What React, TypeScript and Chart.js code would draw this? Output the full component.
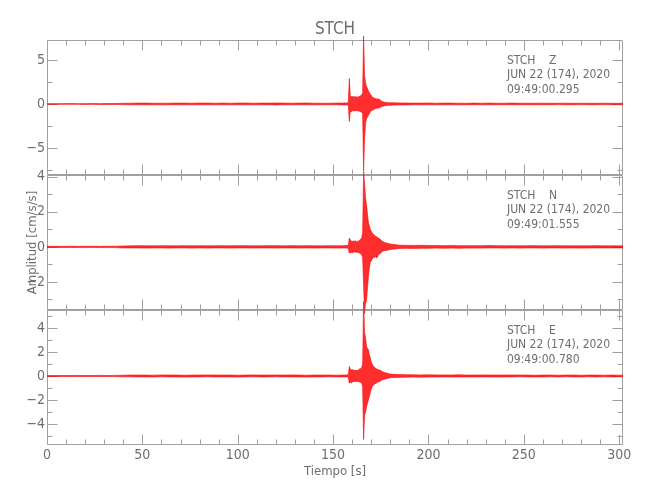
import React, { useEffect, useRef } from 'react';
import { Chart, registerables } from 'chart.js';

Chart.register(...registerables);

// ---------- text ----------
const TITLE = 'STCH';
const X_LABEL = 'Tiempo [s]';
const Y_LABEL = 'Amplitud [cm/s/s]';
const ANNOT_Z = ['STCH    Z', 'JUN 22 (174), 2020', '09:49:00.295'];
const ANNOT_N = ['STCH    N', 'JUN 22 (174), 2020', '09:49:01.555'];
const ANNOT_E = ['STCH    E', 'JUN 22 (174), 2020', '09:49:00.780'];

// ---------- axes ----------
const X_MIN = 0;
const X_MAX = 302;
const X_MAJOR = [0, 50, 100, 150, 200, 250, 300];
const X_MINOR = [10, 20, 30, 40, 60, 70, 80, 90, 110, 120, 130, 140, 160, 170, 180, 190, 210, 220, 230, 240, 260, 270, 280, 290];

const Z_RANGE = [-8.07, 7.27];
const Z_MAJOR = [-5, 0, 5];
const Z_MINOR = [-7.5, -2.5, 2.5];
const N_RANGE = [-3.6, 4.1];
const N_MAJOR = [-2, 0, 2, 4];
const N_MINOR = [-3, -1, 1, 3];
const E_RANGE = [-5.75, 5.5];
const E_MAJOR = [-4, -2, 0, 2, 4];
const E_MINOR = [-5, -3, -1, 1, 3, 5];

// ---------- signal envelopes (s, cm/s/s) ----------
const TIME = [
  0, 4, 8, 12, 16, 20, 24, 28, 32, 36,
  40, 44, 48, 52, 56, 60, 64, 68, 72, 76,
  80, 84, 88, 92, 96, 100, 104, 108, 112, 116,
  120, 124, 128, 132, 136, 140, 144, 148, 152, 155,
  157, 157.5, 158, 158.5, 159, 159.5, 160, 160.5, 161, 161.5,
  162, 162.5, 163, 163.5, 164, 164.5, 165, 165.5, 166, 166.5,
  167, 167.5, 168, 168.5, 169, 169.5, 170, 170.5, 171, 171.5,
  172, 172.5, 173, 173.5, 174, 174.5, 175, 176, 177, 178,
  179, 180, 182,
  185, 188, 192, 196, 200, 204, 208, 212, 216, 220,
  224, 228, 232, 236, 240, 244, 248, 252, 256, 260,
  264, 268, 272, 276, 280, 284, 288, 292, 296, 300,
  302,
];

const Z_HI = [
  0.04, 0.04, 0.04, 0.05, 0.04, 0.04, 0.05, 0.04, 0.05, 0.05,
  0.07, 0.09, 0.1, 0.1, 0.08, 0.09, 0.09, 0.1, 0.1, 0.09,
  0.11, 0.1, 0.09, 0.1, 0.09, 0.1, 0.11, 0.09, 0.1, 0.1,
  0.11, 0.1, 0.09, 0.1, 0.11, 0.09, 0.08, 0.09, 0.1, 0.11,
  0.12, 0.14, 0.16, 2.9, 0.95, 0.85, 0.8, 0.9, 0.75, 0.85,
  0.8, 0.7, 0.85, 0.8, 0.9, 0.95, 1.0, 1.3, 7.7, 3.2,
  2.4, 2.0, 1.8, 1.5, 1.3, 1.1, 1.0, 0.8, 0.7, 0.7,
  0.6, 0.6, 0.55, 0.5, 0.6, 0.45, 0.4, 0.25, 0.2, 0.18,
  0.15, 0.14, 0.13,
  0.12, 0.11, 0.1, 0.1, 0.11, 0.09, 0.1, 0.1, 0.09, 0.08,
  0.1, 0.09, 0.1, 0.08, 0.09, 0.1, 0.08, 0.09, 0.08, 0.09,
  0.08, 0.08, 0.09, 0.08, 0.08, 0.08, 0.07, 0.09, 0.07, 0.08,
  0.07,
];
const Z_LO = [
  -0.04, -0.04, -0.04, -0.04, -0.04, -0.05, -0.04, -0.05, -0.05, -0.05,
  -0.07, -0.09, -0.1, -0.1, -0.09, -0.1, -0.08, -0.1, -0.1, -0.09,
  -0.1, -0.09, -0.1, -0.1, -0.09, -0.1, -0.1, -0.1, -0.1, -0.1,
  -0.11, -0.1, -0.1, -0.09, -0.1, -0.1, -0.09, -0.09, -0.09, -0.11,
  -0.11, -0.12, -0.14, -2.0, -0.85, -0.9, -0.75, -0.8, -0.8, -0.7,
  -0.75, -0.8, -0.7, -0.85, -0.8, -0.9, -0.95, -1.1, -7.6, -4.0,
  -2.2, -1.7, -1.5, -1.3, -1.1, -0.9, -0.8, -0.7, -0.7, -0.6,
  -0.5, -0.5, -0.5, -0.4, -0.5, -0.4, -0.35, -0.25, -0.2, -0.17,
  -0.15, -0.14, -0.12,
  -0.11, -0.11, -0.1, -0.1, -0.09, -0.1, -0.1, -0.09, -0.1, -0.09,
  -0.08, -0.1, -0.09, -0.09, -0.08, -0.09, -0.09, -0.08, -0.09, -0.08,
  -0.08, -0.07, -0.08, -0.08, -0.07, -0.09, -0.08, -0.07, -0.08, -0.07,
  -0.07,
];

const N_HI = [
  0.03, 0.04, 0.03, 0.04, 0.03, 0.04, 0.04, 0.03, 0.04, 0.04,
  0.05, 0.06, 0.07, 0.06, 0.06, 0.07, 0.06, 0.06, 0.07, 0.06,
  0.07, 0.06, 0.06, 0.07, 0.06, 0.07, 0.07, 0.06, 0.06, 0.07,
  0.07, 0.06, 0.07, 0.06, 0.07, 0.06, 0.06, 0.07, 0.06, 0.07,
  0.08, 0.09, 0.1, 0.5, 0.4, 0.35, 0.3, 0.35, 0.3, 0.35,
  0.3, 0.25, 0.35, 0.3, 0.4, 0.45, 0.5, 0.8, 4.3, 3.6,
  2.8, 2.4, 1.9, 1.4, 1.2, 1.0, 0.9, 0.8, 0.7, 0.7,
  0.6, 0.6, 0.6, 0.5, 0.5, 0.45, 0.4, 0.3, 0.25, 0.22,
  0.2, 0.17, 0.13,
  0.1, 0.09, 0.08, 0.09, 0.08, 0.08, 0.07, 0.08, 0.07, 0.07,
  0.07, 0.07, 0.08, 0.07, 0.06, 0.07, 0.06, 0.07, 0.07, 0.06,
  0.06, 0.07, 0.06, 0.06, 0.06, 0.06, 0.07, 0.06, 0.06, 0.06,
  0.06,
];
const N_LO = [
  -0.03, -0.03, -0.04, -0.03, -0.04, -0.04, -0.03, -0.04, -0.04, -0.04,
  -0.06, -0.06, -0.06, -0.07, -0.06, -0.06, -0.07, -0.06, -0.06, -0.07,
  -0.06, -0.07, -0.06, -0.06, -0.07, -0.06, -0.06, -0.07, -0.06, -0.06,
  -0.07, -0.06, -0.06, -0.07, -0.06, -0.07, -0.06, -0.06, -0.07, -0.06,
  -0.07, -0.08, -0.09, -0.35, -0.35, -0.3, -0.35, -0.3, -0.3, -0.25,
  -0.3, -0.3, -0.3, -0.35, -0.35, -0.4, -0.45, -0.6, -2.2, -3.8,
  -3.2, -3.1, -2.4, -1.7, -1.2, -0.9, -0.8, -0.7, -0.6, -0.6,
  -0.6, -0.5, -0.6, -0.5, -0.4, -0.4, -0.35, -0.25, -0.22, -0.2,
  -0.18, -0.15, -0.12,
  -0.09, -0.08, -0.09, -0.08, -0.08, -0.07, -0.08, -0.07, -0.08, -0.07,
  -0.07, -0.07, -0.06, -0.06, -0.07, -0.06, -0.07, -0.06, -0.06, -0.07,
  -0.06, -0.06, -0.07, -0.06, -0.07, -0.06, -0.06, -0.06, -0.06, -0.06,
  -0.06,
];

const E_HI = [
  0.04, 0.04, 0.04, 0.04, 0.05, 0.04, 0.04, 0.05, 0.04, 0.05,
  0.07, 0.08, 0.08, 0.08, 0.07, 0.09, 0.08, 0.08, 0.07, 0.08,
  0.08, 0.09, 0.08, 0.08, 0.08, 0.07, 0.08, 0.09, 0.08, 0.08,
  0.08, 0.08, 0.09, 0.08, 0.07, 0.08, 0.08, 0.08, 0.07, 0.08,
  0.09, 0.1, 0.12, 0.8, 0.6, 0.5, 0.55, 0.5, 0.45, 0.5,
  0.4, 0.5, 0.45, 0.55, 0.6, 0.6, 0.7, 1.0, 6.2, 3.6,
  3.2, 2.5, 2.3, 2.2, 1.8, 1.5, 1.2, 1.0, 0.85, 0.75,
  0.7, 0.6, 0.6, 0.55, 0.5, 0.5, 0.45, 0.35, 0.3, 0.25,
  0.2, 0.17, 0.14,
  0.12, 0.11, 0.1, 0.09, 0.1, 0.09, 0.09, 0.08, 0.1, 0.08,
  0.08, 0.09, 0.08, 0.08, 0.08, 0.09, 0.08, 0.08, 0.07, 0.08,
  0.08, 0.07, 0.08, 0.08, 0.07, 0.08, 0.08, 0.07, 0.08, 0.07,
  0.07,
];
const E_LO = [
  -0.04, -0.04, -0.04, -0.04, -0.04, -0.04, -0.05, -0.04, -0.04, -0.05,
  -0.07, -0.07, -0.08, -0.08, -0.08, -0.07, -0.08, -0.08, -0.09, -0.08,
  -0.08, -0.07, -0.08, -0.08, -0.08, -0.09, -0.08, -0.07, -0.08, -0.08,
  -0.07, -0.08, -0.08, -0.08, -0.09, -0.08, -0.08, -0.07, -0.08, -0.08,
  -0.08, -0.09, -0.12, -0.6, -0.5, -0.6, -0.5, -0.45, -0.5, -0.4,
  -0.45, -0.5, -0.4, -0.5, -0.5, -0.55, -0.6, -0.9, -5.3, -3.3,
  -3.0, -2.6, -2.3, -2.0, -1.7, -1.4, -1.1, -0.9, -0.8, -0.7,
  -0.65, -0.6, -0.55, -0.5, -0.5, -0.45, -0.4, -0.3, -0.27, -0.22,
  -0.18, -0.15, -0.13,
  -0.11, -0.1, -0.09, -0.1, -0.09, -0.09, -0.08, -0.09, -0.08, -0.08,
  -0.08, -0.08, -0.08, -0.09, -0.08, -0.08, -0.07, -0.08, -0.08, -0.08,
  -0.07, -0.08, -0.07, -0.08, -0.08, -0.07, -0.08, -0.07, -0.08, -0.07,
  -0.07,
];

// ---------- style ----------
const FONT = '"Liberation Sans Narrow", "DejaVu Sans Condensed", "Liberation Sans", sans-serif';
const AXIS_COLOR = '#a0a0a0';
const TEXT_COLOR = '#6e6e6e';
const SIGNAL_COLOR = '#ff0000';
const SIGNAL_FILL = 'rgba(255, 0, 0, 0.82)';
const W = 650;
const H = 500;

type Panel = {
  hi: number[];
  lo: number[];
  range: number[];
  major: number[];
  minor: number[];
  annot: string[];
  padTop: number;
  padBottom: number;
  showTitle: boolean;
  showX: boolean;
  showYTitle: boolean;
};

const PANELS: Panel[] = [
  { hi: Z_HI, lo: Z_LO, range: Z_RANGE, major: Z_MAJOR, minor: Z_MINOR, annot: ANNOT_Z, padTop: 0, padBottom: 325, showTitle: true, showX: false, showYTitle: false },
  { hi: N_HI, lo: N_LO, range: N_RANGE, major: N_MAJOR, minor: N_MINOR, annot: ANNOT_N, padTop: 175, padBottom: 190, showTitle: false, showX: false, showYTitle: true },
  { hi: E_HI, lo: E_LO, range: E_RANGE, major: E_MAJOR, minor: E_MINOR, annot: ANNOT_E, padTop: 310, padBottom: 0, showTitle: false, showX: true, showYTitle: false },
];

function fmt(v: number): string {
  if (v < 0) return '\u2212' + String(Math.abs(v));
  return String(v);
}

function series(values: number[]) {
  return TIME.map((t, i) => ({ x: t, y: values[i] }));
}

function framePlugin(p: Panel) {
  return {
    id: 'frame',
    beforeDatasetsDraw(chart: any) {
      const ctx = chart.ctx;
      const { left, right, top, bottom } = chart.chartArea;
      const xs = chart.scales.x;
      const ys = chart.scales.y;
      const L = Math.round(left) + 0.5;
      const R = Math.round(right) - 0.5;
      const T = Math.round(top) + 0.5;
      const B = Math.round(bottom) - 0.5;
      ctx.save();
      ctx.strokeStyle = AXIS_COLOR;
      ctx.lineWidth = 1;
      ctx.beginPath();
      ctx.rect(L, T, R - L, B - T);
      const xTick = (v: number, len: number) => {
        const px = Math.round(xs.getPixelForValue(v)) + 0.5;
        ctx.moveTo(px, B);
        ctx.lineTo(px, B - len);
        ctx.moveTo(px, T);
        ctx.lineTo(px, T + len);
      };
      const yTick = (v: number, len: number) => {
        const py = Math.round(ys.getPixelForValue(v)) + 0.5;
        ctx.moveTo(L, py);
        ctx.lineTo(L + len, py);
        ctx.moveTo(R, py);
        ctx.lineTo(R - len, py);
      };
      X_MAJOR.forEach((v) => xTick(v, 10));
      X_MINOR.forEach((v) => xTick(v, 5));
      p.major.forEach((v) => yTick(v, 10));
      p.minor.forEach((v) => yTick(v, 5));
      ctx.stroke();
      ctx.restore();
    },
    afterDraw(chart: any) {
      const ctx = chart.ctx;
      const { top } = chart.chartArea;
      ctx.save();
      ctx.fillStyle = TEXT_COLOR;
      ctx.font = '12px ' + FONT;
      ctx.textAlign = 'left';
      ctx.textBaseline = 'middle';
      p.annot.forEach((line, i) => {
        ctx.fillText(line, 507, top + 21 + i * 14.3);
      });
      ctx.restore();
    },
  };
}

function makeConfig(p: Panel): any {
  return {
    type: 'line',
    data: {
      datasets: [
        {
          data: series(p.lo),
          borderColor: SIGNAL_COLOR,
          borderWidth: 0.6,
          pointRadius: 0,
          tension: 0,
          fill: false,
          clip: false,
        },
        {
          data: series(p.hi),
          borderColor: SIGNAL_COLOR,
          backgroundColor: SIGNAL_FILL,
          borderWidth: 0.6,
          pointRadius: 0,
          tension: 0,
          fill: '-1',
          clip: false,
        },
      ],
    },
    options: {
      animation: false,
      responsive: false,
      events: [],
      layout: { padding: { top: p.padTop, bottom: p.padBottom, left: 0, right: 27 } },
      plugins: {
        legend: { display: false },
        tooltip: { enabled: false },
        title: {
          display: p.showTitle,
          fullSize: false,
          text: TITLE,
          color: TEXT_COLOR,
          font: { family: FONT, size: 17, weight: 'normal', lineHeight: 1 },
          padding: { top: 21, bottom: 2 },
        },
      },
      scales: {
        x: {
          type: 'linear',
          display: p.showX,
          min: X_MIN,
          max: X_MAX,
          afterBuildTicks: (s: any) => {
            s.ticks = X_MAJOR.map((v) => ({ value: v }));
          },
          afterFit: (s: any) => {
            s.height = p.showX ? 55 : 0;
          },
          grid: { display: false, drawTicks: false },
          border: { display: false },
          ticks: {
            color: TEXT_COLOR,
            font: { family: FONT, size: 14 },
            padding: 2,
            maxRotation: 0,
            autoSkip: false,
            callback: (v: any) => fmt(Number(v)),
          },
          title: {
            display: true,
            text: X_LABEL,
            color: TEXT_COLOR,
            font: { family: FONT, size: 13 },
            padding: { top: 0, bottom: 21 },
          },
        },
        y: {
          type: 'linear',
          position: 'left',
          min: p.range[0],
          max: p.range[1],
          afterBuildTicks: (s: any) => {
            s.ticks = p.major.map((v) => ({ value: v }));
          },
          afterFit: (s: any) => {
            s.width = 47;
          },
          grid: { display: false, drawTicks: false },
          border: { display: false },
          ticks: {
            color: TEXT_COLOR,
            font: { family: FONT, size: 14 },
            padding: 2,
            autoSkip: false,
            callback: (v: any) => fmt(Number(v)),
          },
          title: {
            display: p.showYTitle,
            text: Y_LABEL,
            color: TEXT_COLOR,
            font: { family: FONT, size: 13 },
            padding: { top: 25, bottom: 0 },
          },
        },
      },
    },
    plugins: [framePlugin(p)],
  };
}

export default function App() {
  const refs = [useRef<HTMLCanvasElement>(null), useRef<HTMLCanvasElement>(null), useRef<HTMLCanvasElement>(null)];

  useEffect(() => {
    const charts = PANELS.map((p, i) => new Chart(refs[i].current as HTMLCanvasElement, makeConfig(p)));
    return () => charts.forEach((c) => c.destroy());
  }, []);

  return (
    <div style={{ position: 'absolute', left: 0, top: 0, width: W, height: H, background: '#ffffff' }}>
      {PANELS.map((_, i) => (
        <canvas
          key={i}
          ref={refs[i]}
          width={W}
          height={H}
          style={{ position: 'absolute', left: 0, top: 0, width: W, height: H }}
        />
      ))}
    </div>
  );
}
